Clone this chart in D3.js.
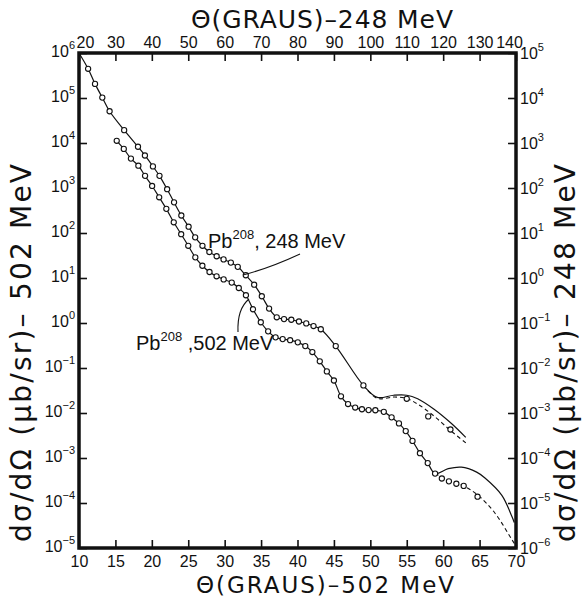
<!DOCTYPE html>
<html><head><meta charset="utf-8">
<script src="https://cdn.jsdelivr.net/npm/d3@7/dist/d3.min.js"></script>
<style>body{margin:0;background:#fff}text{font-family:"Liberation Sans",Arial,sans-serif;fill:#111}</style>
</head><body>
<svg id="c" width="587" height="601"></svg>
<script>
// ---- tick labels ----
const bottomTicks = [10,15,20,25,30,35,40,45,50,55,60,65,70];
const topTicks = [20,30,40,50,60,70,80,90,100,110,120,130,140];
const leftExps = [-5,-4,-3,-2,-1,0,1,2,3,4,5,6];
const rightExps = [-6,-5,-4,-3,-2,-1,0,1,2,3,4,5];

// ---- Pb208, 248 MeV (top / right axes) : measured points ----
const theta248 = [22.5,24.4,26.4,28.4,32.4,36.2,38.1,40.3,42.1,44.2,46.1,48.1,50.1,51.9,53.9,55.8,57.8,59.7,61.7,63.6,65.8,68.1,70.2,72.2,74.3,76.3,78.3,80.4,82.4,84.4,86.4,90.5,98.1,110.0,115.9,122.0];
const sigma248 = [4.46e4,2.06e4,1.02e4,5.08e3,1.93e3,826,528,302,186,94,48,24.5,13.8,8.0,5.2,3.78,3.04,2.59,2.2,1.77,1.15,0.71,0.393,0.209,0.134,0.122,0.118,0.108,0.098,0.0855,0.0726,0.0307,0.0041,0.00207,8.4e-4,4.3e-4];
// theory, solid
const fit248Theta = [20,22.5,24.4,26.4,28.4,32.4,36.2,38.1,40.3,42.1,44.2,46.1,48.1,50.1,51.9,53.9,55.8,57.8,59.7,61.7,63.6,65.8,68.1,70.2,72.2,74.3,76.3,78.3,80.4,82.4,84.4,86.4,90.5,98.1,101.9,106.4,110.0,113.0,117.5,122.2,126.2];
const fit248Sigma = [1e5,4.46e4,2.06e4,1.02e4,5.08e3,1.93e3,826,528,302,186,94,48,24.5,13.8,8.0,5.2,3.78,3.04,2.59,2.2,1.77,1.15,0.71,0.393,0.209,0.134,0.122,0.118,0.108,0.098,0.0855,0.0726,0.0307,0.0041,0.00222,0.00248,0.00248,0.00207,0.00121,5.9e-4,2.87e-4];
// theory, dashed
const dash248Theta = [98.1,101.9,106.4,109.7,113.0,117.6,122.2,126.4];
const dash248Sigma = [0.0041,0.00211,0.00226,0.00214,0.00158,8.4e-4,3.96e-4,2.11e-4];

// ---- Pb208, 502 MeV (bottom / left axes) : measured points ----
const theta502 = [15.18,16.15,17.13,18.15,19.07,20.04,21.01,21.99,23.01,24.03,25.0,25.97,26.94,27.92,28.89,29.86,30.97,31.94,32.92,33.89,34.96,35.97,36.99,37.96,38.99,40.04,41.07,42.04,43.06,44.03,45.0,45.97,46.94,47.92,48.85,49.76,50.69,51.85,52.92,53.93,54.86,55.79,56.81,57.88,58.89,59.82,60.79,61.81,62.82,64.72];
const sigma502 = [1.12e4,7.4e3,4.5e3,3.13e3,1.86e3,1.11e3,622,344,173,94,52,28.8,18.7,13.6,10.9,9.3,7.9,6.0,4.14,2.02,1.04,0.653,0.48,0.439,0.415,0.372,0.307,0.226,0.141,0.0841,0.0527,0.0235,0.0158,0.0132,0.0121,0.0116,0.0115,0.0106,0.0080,0.00587,0.00396,0.0024,0.00128,7.7e-4,4.5e-4,3.5e-4,3.03e-4,2.68e-4,2.4e-4,1.38e-4];
const fit502Theta = [15.18,16.15,17.13,18.15,19.07,20.04,21.01,21.99,23.01,24.03,25.0,25.97,26.94,27.92,28.89,29.86,30.97,31.94,32.92,33.89,34.96,35.97,36.99,37.96,38.99,40.04,41.07,42.04,43.06,44.03,45.0,45.97,46.94,47.92,48.85,49.76,50.69,51.85,52.92,53.93,54.86,55.79,56.81,57.88,58.89,60.7,62.5,64.6,65.74,68.06,69.44,69.76];
const fit502Sigma = [1.12e4,7.4e3,4.5e3,3.13e3,1.86e3,1.11e3,622,344,173,94,52,28.8,18.7,13.6,10.9,9.3,7.9,6.0,4.14,2.02,1.04,0.653,0.48,0.439,0.415,0.372,0.307,0.226,0.141,0.0841,0.0527,0.0235,0.0158,0.0132,0.0121,0.0116,0.0115,0.0106,0.0080,0.00587,0.00396,0.0024,0.00128,7.7e-4,4.5e-4,5.8e-4,6.25e-4,4.85e-4,3.6e-4,1.48e-4,5.0e-5,3.7e-5];
const dash502Theta = [58.89,61.1,62.8,64.8,67.1,69.4,70];
const dash502Sigma = [4.5e-4,3.03e-4,2.4e-4,1.48e-4,6.0e-5,1.57e-5,1.1e-5];

const svg = d3.select('#c');
const L=79,R=516,T=53,B=548;
const xB = d3.scaleLinear().domain([10,70]).range([L,R]);
const xT = d3.scaleLinear().domain([20,140]).range([L,R]);
const yL = d3.scaleLog().domain([1e-5,1e6]).range([B,T]);
const yR = d3.scaleLog().domain([1e-6,1e5]).range([B,T]);

// axes (ticks inward)
const gB = svg.append('g').attr('transform',`translate(0,${B})`)
  .call(d3.axisBottom(xB).tickValues(bottomTicks).tickSize(-8).tickPadding(8).tickFormat(d3.format('d')));
const gT = svg.append('g').attr('transform',`translate(0,${T})`)
  .call(d3.axisTop(xT).tickValues(topTicks).tickSize(-8).tickPadding(5).tickFormat(d3.format('d')));
const gL = svg.append('g').attr('transform',`translate(${L},0)`)
  .call(d3.axisLeft(yL).tickValues(leftExps.map(e=>Math.pow(10,e))).tickSize(-8).tickFormat(()=>''));
const gR = svg.append('g').attr('transform',`translate(${R},0)`)
  .call(d3.axisRight(yR).tickValues(rightExps.map(e=>Math.pow(10,e))).tickSize(-8).tickFormat(()=>''));
[gB,gT,gL,gR].forEach(g=>{g.select('.domain').remove();g.selectAll('line').attr('stroke','#111').attr('stroke-width',1.6);
  g.selectAll('text').attr('font-size',16).attr('font-family','"Liberation Sans",Arial,sans-serif').attr('fill','#111');});
gT.selectAll('text').filter(d=>d===20).attr('dx',6);
gT.selectAll('text').filter(d=>d===140).attr('dx',-7);

function powLabel(g, x, y, exp, anchor){
  const t = g.append('text').attr('x',x).attr('y',y).attr('text-anchor',anchor).attr('font-size',16);
  t.append('tspan').text('10');
  t.append('tspan').attr('dy',-8).attr('font-size',11).text(String(exp).replace('-','\u2212'));
}
const lab = svg.append('g');
leftExps.forEach(e=>powLabel(lab, L-4, yL(Math.pow(10,e))+4, e, 'end'));
rightExps.forEach(e=>powLabel(lab, R+4, yR(Math.pow(10,e))+6, e, 'start'));

// frame
svg.append('rect').attr('x',L).attr('y',T).attr('width',R-L).attr('height',B-T)
  .attr('fill','none').attr('stroke','#111').attr('stroke-width',3.5);

// curves
const line = d3.line().curve(d3.curveCatmullRom.alpha(0.5));
const P = (xs,ys,sx,sy)=>xs.map((t,i)=>[sx(t),sy(ys[i])]);
const plot = svg.append('g');
plot.append('path').attr('d',line(P(fit248Theta,fit248Sigma,xT,yR))).attr('fill','none').attr('stroke','#111').attr('stroke-width',1.2);
plot.append('path').attr('d',line(P(dash248Theta,dash248Sigma,xT,yR))).attr('fill','none').attr('stroke','#111').attr('stroke-width',1.1).attr('stroke-dasharray','4,3');
plot.append('path').attr('d',line(P(fit502Theta,fit502Sigma,xB,yL))).attr('fill','none').attr('stroke','#111').attr('stroke-width',1.2);
plot.append('path').attr('d',line(P(dash502Theta,dash502Sigma,xB,yL))).attr('fill','none').attr('stroke','#111').attr('stroke-width',1.1).attr('stroke-dasharray','4,3');

plot.selectAll('c248').data(theta248.map((t,i)=>[t,sigma248[i]])).join('circle')
  .attr('cx',d=>xT(d[0])).attr('cy',d=>yR(d[1])).attr('r',2.6).attr('fill','#fff').attr('stroke','#111').attr('stroke-width',1.1);
plot.selectAll('c502').data(theta502.map((t,i)=>[t,sigma502[i]])).join('circle')
  .attr('cx',d=>xB(d[0])).attr('cy',d=>yL(d[1])).attr('r',2.6).attr('fill','#fff').attr('stroke','#111').attr('stroke-width',1.1);

// curve labels
function pbLabel(x,y,rest){
  const t = svg.append('text').attr('x',x).attr('y',y).attr('font-size',20);
  t.append('tspan').text('Pb');
  t.append('tspan').attr('dy',-9).attr('font-size',13).text('208');
  t.append('tspan').attr('dy',9).text(rest);
}
pbLabel(208,248,', 248 MeV');
pbLabel(136,350,' ,502 MeV');
svg.append('path').attr('d','M300,254 Q270,268 243,275').attr('fill','none').attr('stroke','#111').attr('stroke-width',1.1);
svg.append('path').attr('d','M238,332 Q237,309 249,299').attr('fill','none').attr('stroke','#111').attr('stroke-width',1.1);

// axis titles
const ttl = (sel)=>sel.attr('text-anchor','middle').attr('lengthAdjust','spacing').style('font-family','"DejaVu Sans",sans-serif');
ttl(svg.append('text').attr('x',322).attr('y',28).attr('font-size',25).attr('textLength',262)).text('\u0398(GRAUS)\u2013248 MeV');
ttl(svg.append('text').attr('x',325).attr('y',593).attr('font-size',23).attr('textLength',258)).text('\u0398(GRAUS)\u2013502 MeV');
ttl(svg.append('text').attr('transform','translate(31,353) rotate(-90)').attr('font-size',28).attr('textLength',378)).text('d\u03c3/d\u03a9 (\u03bcb/sr)\u2013 502 MeV');
ttl(svg.append('text').attr('transform','translate(575,353) rotate(-90)').attr('font-size',28).attr('textLength',378)).text('d\u03c3/d\u03a9 (\u03bcb/sr)\u2013 248 MeV');
</script>
</body></html>
